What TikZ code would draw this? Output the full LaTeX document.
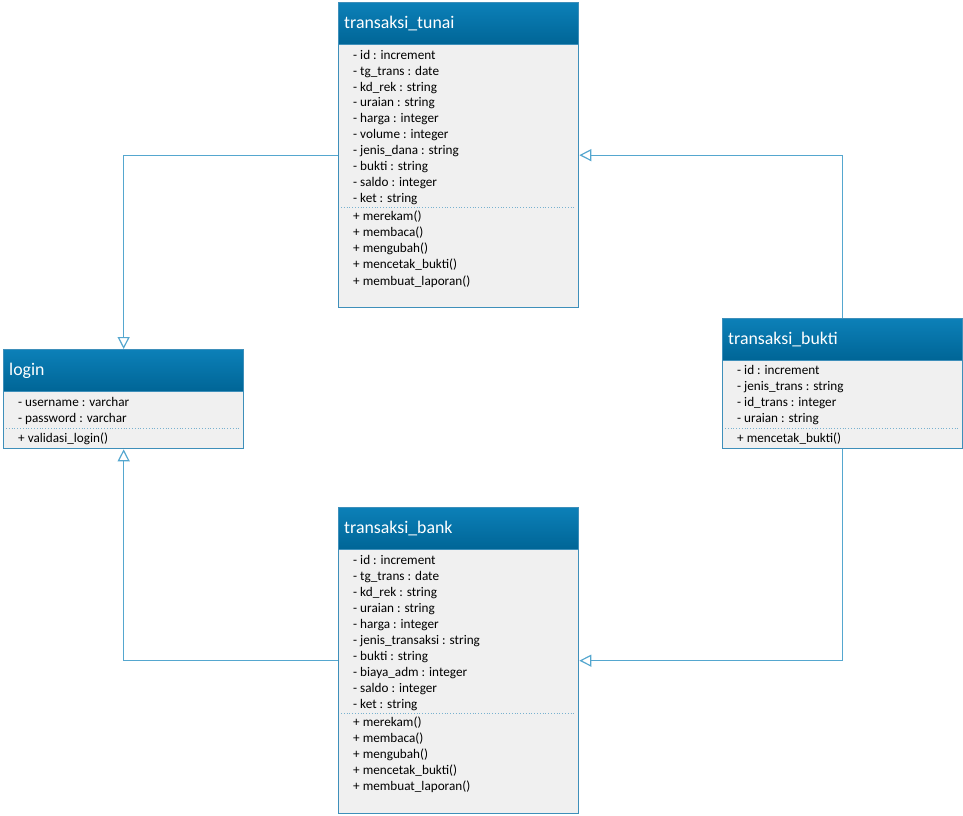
\documentclass[tikz,border=0pt]{standalone}
\usepackage{fontspec}
\setmainfont{Carlito}
\usetikzlibrary{arrows.meta}
\definecolor{garis}{HTML}{3E8FBA}
\definecolor{isi}{HTML}{F0F0F0}
\definecolor{atas}{HTML}{0C80B8}
\definecolor{bawah}{HTML}{006596}
\definecolor{relasi}{HTML}{55A7CF}
\tikzset{
  kelas/.style={draw=garis, fill=isi, line width=1.3pt, inner sep=0, anchor=north west, minimum width=240},
  kepala/.style={draw=garis, top color=atas, bottom color=bawah, line width=1.3pt, inner sep=0, anchor=north west, minimum width=240, minimum height=42},
  judul/.style={anchor=base west, inner sep=0, text=white, font=\fontsize{17.8}{21}\selectfont},
  teks/.style={anchor=base west, inner sep=0, font=\fontsize{13.2}{15}\selectfont},
  pemisah/.style={draw=garis!70, dotted, line width=0.8pt},
  warisan/.style={draw=relasi, line width=1.2pt, -{Triangle[open, length=12pt, width=12pt, fill=white]}}
}

\begin{document}
\begin{tikzpicture}[x=1pt,y=-1pt]
\useasboundingbox (0,0) rectangle (963,815);
% transaksi_tunai
\node[kelas, minimum height=305](tunai) at (338,2){};
\node[kepala](tunaiH) at (338,2){};
\node[judul](tunaiJ) at (344,28){transaksi\_tunai};
\node[teks](T1) at (353,59){- id : increment};
\node[teks](T2) at (353,75){- tg\_trans : date};
\node[teks](T3) at (353,91){- kd\_rek : string};
\node[teks](T4) at (353,106){- uraian : string};
\node[teks](T5) at (353,122){- harga : integer};
\node[teks](T6) at (353,138){- volume : integer};
\node[teks](T7) at (353,154){- jenis\_dana : string};
\node[teks](T8) at (353,170){- bukti : string};
\node[teks](T9) at (353,186){- saldo : integer};
\node[teks](T10) at (353,202){- ket : string};
\draw[pemisah](341,207)--(575,207);
\node[teks](TM1) at (353,220){+ merekam()};
\node[teks](TM2) at (353,236){+ membaca()};
\node[teks](TM3) at (353,252){+ mengubah()};
\node[teks](TM4) at (353,268){+ mencetak\_bukti()};
\node[teks](TM5) at (353,285){+ membuat\_laporan()};

% login
\node[kelas, minimum height=99](login) at (3,349){};
\node[kepala](loginH) at (3,349){};
\node[judul](loginJ) at (9,375){login};
\node[teks](L1) at (18,406){- username : varchar};
\node[teks](L2) at (18,422){- password : varchar};
\draw[pemisah](6,428)--(240,428);
\node[teks](LM1) at (18,442){+ validasi\_login()};

% transaksi_bukti
\node[kelas, minimum height=130](bukti) at (722,318){};
\node[kepala](buktiH) at (722,318){};
\node[judul](buktiJ) at (728,344){transaksi\_bukti};
\node[teks](K1) at (737,374){- id : increment};
\node[teks](K2) at (737,390){- jenis\_trans : string};
\node[teks](K3) at (737,406){- id\_trans : integer};
\node[teks](K4) at (737,422){- uraian : string};
\draw[pemisah](725,428)--(959,428);
\node[teks](KM1) at (737,442){+ mencetak\_bukti()};

% transaksi_bank
\node[kelas, minimum height=306](bank) at (338,507){};
\node[kepala](bankH) at (338,507){};
\node[judul](bankJ) at (344,533){transaksi\_bank};
\node[teks](B1) at (353,564){- id : increment};
\node[teks](B2) at (353,580){- tg\_trans : date};
\node[teks](B3) at (353,596){- kd\_rek : string};
\node[teks](B4) at (353,612){- uraian : string};
\node[teks](B5) at (353,628){- harga : integer};
\node[teks](B6) at (353,644){- jenis\_transaksi : string};
\node[teks](B7) at (353,660){- bukti : string};
\node[teks](B8) at (353,676){- biaya\_adm : integer};
\node[teks](B9) at (353,692){- saldo : integer};
\node[teks](B10) at (353,708){- ket : string};
\draw[pemisah](341,713)--(575,713);
\node[teks](BM1) at (353,726){+ merekam()};
\node[teks](BM2) at (353,742){+ membaca()};
\node[teks](BM3) at (353,758){+ mengubah()};
\node[teks](BM4) at (353,774){+ mencetak\_bukti()};
\node[teks](BM5) at (353,790){+ membuat\_laporan()};

% relasi
\draw[warisan](tunai.west)-|(login.north);
\draw[warisan](bank.west)-|(login.south);
\draw[warisan](bukti.north)|-(tunai.east);
\draw[warisan](bukti.south)|-(bank.east);
\end{tikzpicture}
\end{document}
